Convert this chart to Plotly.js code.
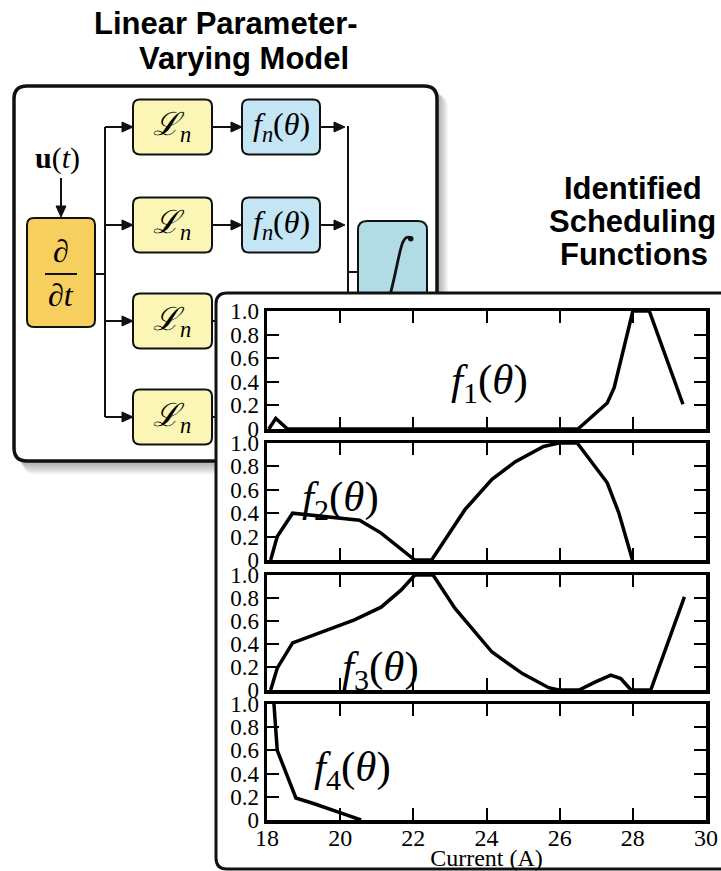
<!DOCTYPE html>
<html><head><meta charset="utf-8">
<script src="https://cdn.plot.ly/plotly-3.0.1.min.js"></script>
<style>html,body{margin:0;padding:0;background:#fff}#chart{width:721px;height:871px}</style>
</head><body><div id="chart"></div>
<script>
// ---------------- data ----------------
const f1_current=[18.05,18.24,18.56,26.5,27.3,27.49,28.0,28.45,29.37];
const f1_value  =[0,0.09,0,0,0.22,0.35,1.0,1.0,0.21];
const f2_current=[18.1,18.28,18.7,19.02,19.57,20.53,21.12,22.04,22.5,23.41,24.15,24.79,25.56,25.97,26.48,26.89,27.3,27.62,27.99];
const f2_value  =[0,0.2,0.4,0.39,0.37,0.34,0.23,0,0,0.43,0.69,0.84,0.97,1.0,1.0,0.83,0.66,0.4,0];
const f3_current=[18.1,18.28,18.7,19.57,20.39,21.12,21.67,22.04,22.54,23.14,24.15,24.97,25.7,25.97,26.53,26.98,27.4,27.67,27.95,28.49,29.41];
const f3_value  =[0,0.19,0.41,0.51,0.61,0.72,0.87,1.0,1.0,0.71,0.33,0.145,0.02,0,0,0.07,0.13,0.1,0,0,0.81];
const f4_current=[18.19,18.28,18.79,19.29,20.21,20.57];
const f4_value  =[1.0,0.6,0.19,0.14,0.04,0];
const xTickVals=[18,20,22,24,26,28,30];
const xTickText=['18','20','22','24','26','28','30'];
const yTickVals=[0,0.2,0.4,0.6,0.8,1.0];
const yTickText=['0','0.2','0.4','0.6','0.8','1.0'];
const seriesIndex=['1','2','3','4'];
const xTitle='Current (A)';
const diagramTitle=['Linear Parameter-','Varying Model'];
const insetTitle=['Identified','Scheduling','Functions'];

// ---------------- layout helpers ----------------
const W=721,H=871;
const X=x=>x/W, Y=y=>1-y/H;
const pt=(x,y)=>X(x).toFixed(5)+','+Y(y).toFixed(5);
function rrect(x0,y0,x1,y1,r){
  return 'M'+pt(x0+r,y0)+' L'+pt(x1-r,y0)+' Q'+pt(x1,y0)+' '+pt(x1,y0+r)+
    ' L'+pt(x1,y1-r)+' Q'+pt(x1,y1)+' '+pt(x1-r,y1)+' L'+pt(x0+r,y1)+
    ' Q'+pt(x0,y1)+' '+pt(x0,y1-r)+' L'+pt(x0,y0+r)+' Q'+pt(x0,y0)+' '+pt(x0+r,y0)+' Z';
}
const shapes=[];
function box(x0,y0,x1,y1,r,fill,lw,lc){
  shapes.push({type:'path',xref:'paper',yref:'paper',layer:'below',path:rrect(x0,y0,x1,y1,r),
    fillcolor:fill,line:{color:lc||'#111',width:lw===undefined?2:lw}});
}
function seg(x0,y0,x1,y1,w){
  shapes.push({type:'line',xref:'paper',yref:'paper',layer:'below',x0:X(x0),y0:Y(y0),x1:X(x1),y1:Y(y1),
    line:{color:'#111',width:w||2}});
}
function headR(tx,ty){
  shapes.push({type:'path',xref:'paper',yref:'paper',layer:'below',
    path:'M'+pt(tx,ty)+' L'+pt(tx-11,ty-5)+' L'+pt(tx-11,ty+5)+' Z',fillcolor:'#111',line:{color:'#111',width:1}});
}
function headD(tx,ty){
  shapes.push({type:'path',xref:'paper',yref:'paper',layer:'below',
    path:'M'+pt(tx,ty)+' L'+pt(tx-5,ty-11)+' L'+pt(tx+5,ty-11)+' Z',fillcolor:'#111',line:{color:'#111',width:1}});
}

// diagram shadow
for(let k=1;k<=6;k++){
  shapes.push({type:'path',xref:'paper',yref:'paper',layer:'below',
    path:rrect(14+k*1.5,86+k*1.5,437+k*1.8,461+k*2.2,13),fillcolor:'rgba(0,0,0,0.06)',line:{width:0}});
}
// diagram frame
box(14,86,437,461,13,'#ffffff',3.5);
// u(t) arrow
seg(61,178,61,208,2); headD(61,217);
// d/dt block
box(27,218,95,327,7,'#F7CF5F',2);
seg(45,274,77,274,2);
seg(95,274,105,274,2);
seg(105,127,105,417,2);
const rows=[127,225,321,417];
rows.forEach((y,i)=>{
  seg(105,y,124,y,2); headR(133,y);
  box(133,y-27.5,212,y+27.5,7,'#FCF6B6',2);
  if(i<2){
    seg(212,y,232,y,2); headR(242,y);
    box(242,y-27.5,320,y+27.5,7,'#C4E5F4',2);
    seg(320,y,336,y,2); headR(345,y);
  } else {
    seg(212,y,240,y,2);
  }
});
seg(348,126,348,305,2);
seg(348,272,358,272,2);
box(358,221,427,340,9,'#B2DCE5',2);
// integral sign
shapes.push({type:'path',xref:'paper',yref:'paper',layer:'below',
  path:'M'+pt(388,302)+' C'+pt(395,280)+' '+pt(399,250)+' '+pt(403,242)+' Q'+pt(406,235)+' '+pt(411,238),
  line:{color:'#111',width:2.8}});
shapes.push({type:'circle',xref:'paper',yref:'paper',layer:'below',x0:X(408),x1:X(413.5),y0:Y(236),y1:Y(241.5),
  fillcolor:'#111',line:{width:0}});
// inset panel
box(216,293,780,869,11,'#ffffff',3);

// ---------------- annotations ----------------
const ann=[];
const SANS='Liberation Sans, Arial, sans-serif';
const SERIF='Liberation Serif, Times New Roman, serif';
function txt(s,x,y,size,fam,weight){
  ann.push({text:s,xref:'paper',yref:'paper',x:X(x),y:Y(y),xanchor:'center',yanchor:'middle',showarrow:false,
    font:{family:fam,size:size,color:'#000',weight:weight||'normal'}});
}
txt(diagramTitle[0],226,23,31,SANS,'bold');
txt(diagramTitle[1],244,58,31,SANS,'bold');
txt(insetTitle[0],633,188,31,SANS,'bold');
txt(insetTitle[1],632,222,31,SANS,'bold');
txt(insetTitle[2],634,255,31,SANS,'bold');
txt('<b>u</b>(<i>t</i>)',57,158,30,SERIF);
txt('∂',61,251,32,SERIF);
txt('∂<i>t</i>',61,295,32,SERIF);
rows.forEach((y,i)=>{
  txt('<i>ℒ</i><sub><i>n</i></sub>',172,y,32,SERIF);
  if(i<2) txt('<i>f<sub>n</sub></i>(<i>θ</i>)',281,y,32,SERIF);
});
const labelPos=[[24.07,0.39],[20.0,0.51],[21.1,0.17],[20.33,0.43]];
seriesIndex.forEach((s,i)=>{
  const n=i===0?'':String(i+1);
  ann.push({text:'<i>f</i><sub>'+s+'</sub>(<i>θ</i>)',xref:'x'+n,yref:'y'+n,x:labelPos[i][0],y:labelPos[i][1],
    xanchor:'center',yanchor:'middle',showarrow:false,font:{family:SERIF,size:43,color:'#000'}});
});

// ---------------- traces & axes ----------------
const xs=[f1_current,f2_current,f3_current,f4_current];
const ys=[f1_value,f2_value,f3_value,f4_value];
const traces=xs.map((x,i)=>({type:'scatter',mode:'lines',x:x,y:ys[i],
  xaxis:'x'+(i?i+1:''),yaxis:'y'+(i?i+1:''),line:{color:'#000',width:3.5},hoverinfo:'skip',showlegend:false}));
const yPix=[[429,311],[560,443],[690,575],[820,704]];
const layout={width:W,height:H,margin:{l:0,r:0,t:0,b:0},paper_bgcolor:'#fff',plot_bgcolor:'rgba(0,0,0,0)',
  showlegend:false,shapes:shapes,annotations:ann};
yPix.forEach(([b,t],i)=>{
  const n=i?i+1:'';
  const xa={domain:[267/W,706/W],range:[18,30],anchor:'y'+n,showline:true,linewidth:3.5,linecolor:'#000',
    mirror:'ticks',ticks:'inside',ticklen:12,tickwidth:2,tickcolor:'#000',tickvals:xTickVals,ticktext:xTickText,
    showticklabels:i===3,showgrid:false,zeroline:false,fixedrange:true,
    tickfont:{family:SERIF,size:24,color:'#000'}};
  if(i===3){
    xa.ticklabelstandoff=-6;
    xa.title={text:xTitle,font:{family:SERIF,size:24,color:'#000'},standoff:4};
  }
  layout['xaxis'+n]=xa;
  layout['yaxis'+n]={domain:[1-b/H,1-t/H],range:[0,1],anchor:'x'+n,showline:true,linewidth:3.5,linecolor:'#000',
    mirror:'ticks',ticks:'inside',ticklen:12,tickwidth:2,tickcolor:'#000',tickvals:yTickVals,ticktext:yTickText,
    showgrid:false,zeroline:false,fixedrange:true,tickfont:{family:SERIF,size:23,color:'#000'}};
});
Plotly.newPlot('chart',traces,layout,{staticPlot:true});
</script></body></html>
